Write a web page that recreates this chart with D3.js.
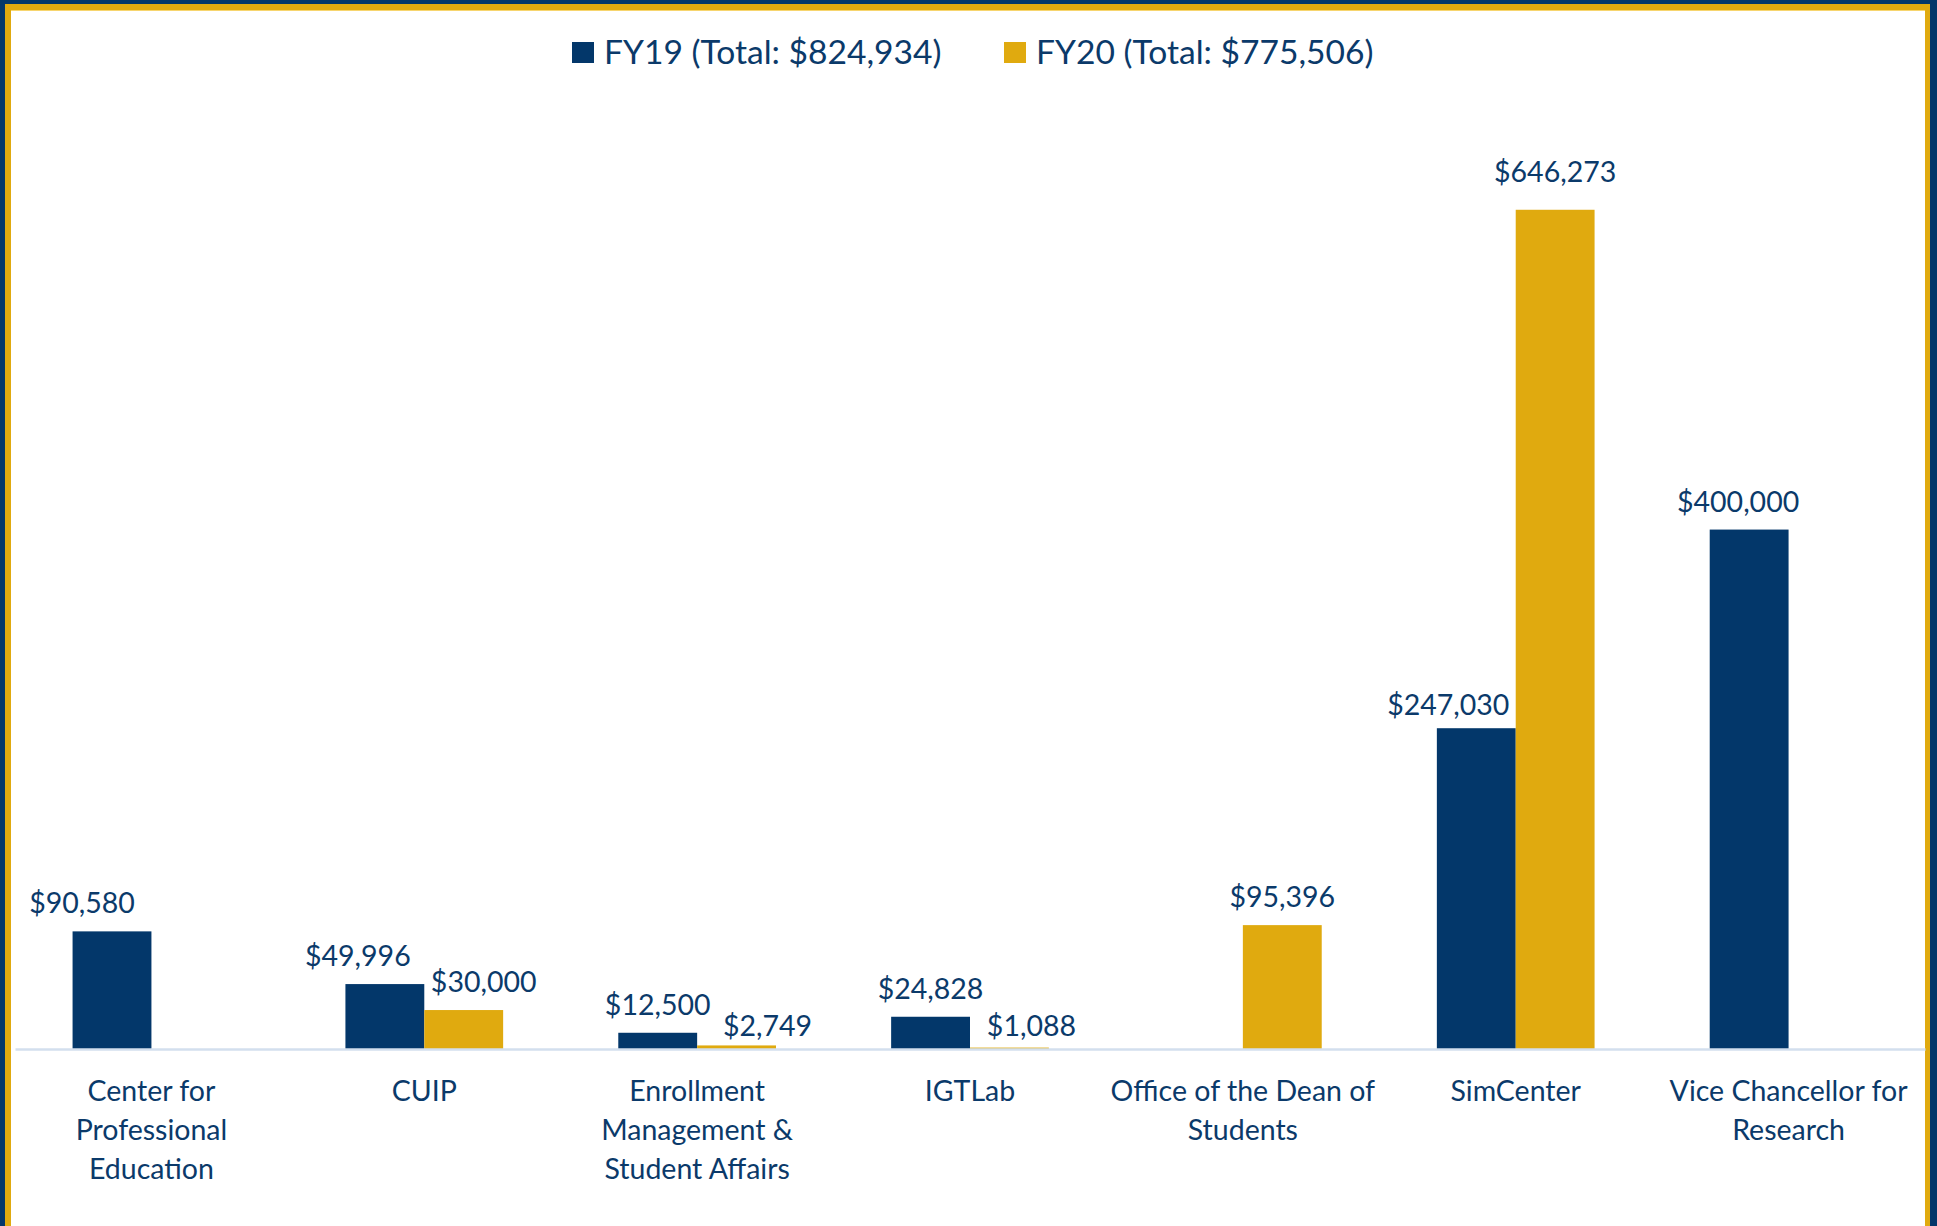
<!DOCTYPE html>
<html>
<head>
<meta charset="utf-8">
<script src="https://cdn.jsdelivr.net/npm/d3@7/dist/d3.min.js"></script>
<style>
  body { margin: 0; background: #fff; }
  svg { display: block; font-family: Lato, "Open Sans", sans-serif; }
</style>
</head>
<body>
<svg width="1937" height="1226"></svg>
<script>
// data
var categories = ["Center for Professional Education", "CUIP", "Enrollment Management & Student Affairs",
                  "IGTLab", "Office of the Dean of Students", "SimCenter", "Vice Chancellor for Research"];
var series = ["FY19", "FY20"];
var legendLabels = ["FY19 (Total: $824,934)", "FY20 (Total: $775,506)"];
var fy19 = [90580, 49996, 12500, 24828, null, 247030, 400000];
var fy20 = [null, 30000, 2749, 1088, 95396, 646273, null];
var yMax = 700000;

// hand-placed label nudges (px), as dragged in the original
var nudge19 = [[-30, 0], [-27, 0], [0, 0], [0, 0], [0, 0], [-28, 5], [-11, 0]];
var nudge20 = [[0, 0], [20, 0], [31, 9], [22, 6], [0, 0], [0, -10], [0, 0]];

var navy = "#03376a", gold = "#e0aa0f", ink = "#0b3a6a";

var svg = d3.select("svg");
var W = 1937, H = 1226;

// frame
svg.append("rect").attr("x", 0).attr("y", 0).attr("width", W).attr("height", H).attr("fill", navy);
svg.append("rect").attr("x", 5).attr("y", 4).attr("width", W - 12).attr("height", H).attr("fill", gold);
svg.append("rect").attr("x", 11).attr("y", 10).attr("width", W - 23).attr("height", H).attr("fill", "#f7d56e");
svg.append("rect").attr("x", 11).attr("y", 11).attr("width", W - 23).attr("height", H).attr("fill", "#fff");

var x0 = d3.scaleBand().domain(categories).range([15, 1925]);
var x1 = d3.scaleBand().domain(series).range([0, x0.bandwidth()]).paddingOuter(0.73);
var y = d3.scaleLinear().domain([0, yMax]).range([1049, 140]);
var color = d3.scaleOrdinal().domain(series).range([navy, gold]);
var fmt = d3.format("$,");

var rows = categories.map(function(c, i) {
  return [
    {cat: c, s: "FY19", v: fy19[i], n: nudge19[i]},
    {cat: c, s: "FY20", v: fy20[i], n: nudge20[i]}
  ];
});

var g = svg.append("g").selectAll("g")
  .data(rows)
  .join("g")
    .attr("transform", function(d) { return "translate(" + x0(d[0].cat) + ",0)"; });

var cells = g.selectAll("g.cell")
  .data(function(d) { return d.filter(function(e) { return e.v != null; }); })
  .join("g").attr("class", "cell");

cells.append("rect")
    .attr("x", function(d) { return x1(d.s); })
    .attr("y", function(d) { return y(d.v); })
    .attr("width", x1.bandwidth())
    .attr("height", function(d) { return y(0) - y(d.v); })
    .attr("fill", function(d) { return color(d.s); });

cells.append("text")
    .attr("x", function(d) { return x1(d.s) + x1.bandwidth() / 2 + d.n[0]; })
    .attr("y", function(d) { return y(d.v) - 18 + d.n[1]; })
    .attr("text-anchor", "middle")
    .attr("fill", ink)
    .attr("font-size", 28.5)
    .text(function(d) { return fmt(d.v); });

// x axis
var xAxis = svg.append("g")
    .attr("transform", "translate(0," + y(0) + ")")
    .call(d3.axisBottom(x0).tickSize(0).tickPadding(0));
xAxis.select(".domain").attr("stroke", "#d3dfee").attr("stroke-width", 2.5);
xAxis.selectAll(".tick text")
    .attr("fill", ink)
    .attr("font-size", 28.5)
    .attr("font-family", "Lato, 'Open Sans', sans-serif")
    .call(wrap, x0.bandwidth() - 2);

function wrap(text, width) {
  text.each(function() {
    var t = d3.select(this),
        words = t.text().split(/\s+/),
        line = [], lineNo = 0,
        tspan = t.text(null).append("tspan").attr("x", 0).attr("y", 52);
    words.forEach(function(w) {
      line.push(w);
      tspan.text(line.join(" "));
      if (tspan.node().getComputedTextLength() > width && line.length > 1) {
        line.pop();
        tspan.text(line.join(" "));
        line = [w];
        tspan = t.append("tspan").attr("x", 0).attr("y", 52 + (++lineNo) * 39).text(w);
      }
    });
    t.attr("dy", null);
  });
}

// legend
var legX = [572, 1004];
var leg = svg.append("g").selectAll("g")
  .data(series)
  .join("g")
    .attr("transform", function(d, i) { return "translate(" + legX[i] + ",42)"; });
leg.append("rect").attr("width", 22).attr("height", 21).attr("fill", color);
leg.append("text")
    .attr("x", 32).attr("y", 22)
    .attr("fill", ink)
    .attr("font-size", 33.6)
    .text(function(d, i) { return legendLabels[i]; });
</script>
</body>
</html>
